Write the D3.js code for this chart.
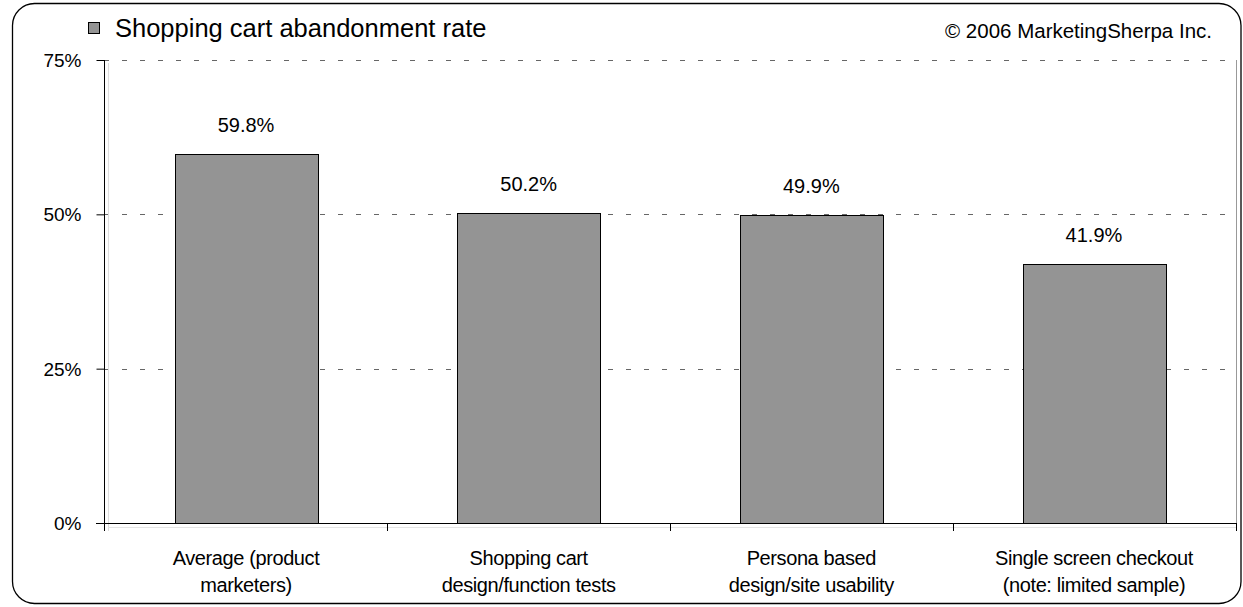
<!DOCTYPE html>
<html><head><meta charset="utf-8">
<script src="https://cdn.jsdelivr.net/npm/d3@7/dist/d3.min.js"></script>
<style>body{margin:0;background:#fff}svg{display:block;font-family:"Liberation Sans",Arial,sans-serif}</style>
</head><body><svg id="c" width="1243" height="607"></svg>
<script>
const categories = [["Average (product","marketers)"],["Shopping cart","design/function tests"],["Persona based","design/site usability"],["Single screen checkout","(note: limited sample)"]];
const values = [59.8, 50.2, 49.9, 41.9];
const valueLabels = ["59.8%","50.2%","49.9%","41.9%"];
const yTicks = [0, 25, 50, 75];
const seriesName = "Shopping cart abandonment rate";
const credit = "© 2006 MarketingSherpa Inc.";

const svg = d3.select("#c");
// outer rounded frame
svg.append("rect").attr("x",12.5).attr("y",3.5).attr("width",1228.5).attr("height",600)
  .attr("rx",22).attr("fill","#fff").attr("stroke","#000").attr("stroke-width",1.3);

const L=104, R=1236, T=60, B=523;
const x = d3.scaleBand().domain(d3.range(categories.length)).range([L,R]).paddingInner(0.495).paddingOuter(0.25);
const y = d3.scaleLinear().domain([0,75]).range([B,T]);

// gridlines
svg.append("g").selectAll("line").data(yTicks.filter(d=>d>0)).join("line")
  .attr("x1",L).attr("x2",R).attr("y1",d=>Math.round(y(d))+0.5).attr("y2",d=>Math.round(y(d))+0.5)
  .attr("stroke","#666").attr("stroke-dasharray","5,13");
// right border
svg.append("line").attr("x1",R+0.5).attr("x2",R+0.5).attr("y1",T).attr("y2",B).attr("stroke","#999");
// inner light lines by axes
svg.append("line").attr("x1",L+4.5).attr("x2",L+4.5).attr("y1",T+3).attr("y2",B+8).attr("stroke","#ddd");
svg.append("line").attr("x1",L+4).attr("x2",R).attr("y1",B+4.5).attr("y2",B+4.5).attr("stroke","#e4e4e4");

// bars
svg.append("g").selectAll("rect").data(values).join("rect")
  .attr("x",(d,i)=>Math.round(x(i))+0.5).attr("width",Math.round(x.bandwidth()))
  .attr("y",d=>Math.round(y(d))+0.5).attr("height",d=>B-Math.round(y(d)))
  .attr("fill","#949494").attr("stroke","#000").attr("stroke-width",1);

// value labels
svg.append("g").selectAll("text").data(values).join("text")
  .attr("x",(d,i)=>x(i)+x.bandwidth()/2).attr("y",d=>y(d)-22)
  .attr("text-anchor","middle").attr("font-size",20).attr("fill","#000")
  .text((d,i)=>valueLabels[i]);

// y axis
const ya = svg.append("g").attr("transform",`translate(${L+0.5},0)`)
  .call(d3.axisLeft(y).tickValues(yTicks).tickFormat(d=>d+"%").tickSize(8).tickPadding(15));
ya.select(".domain").attr("d",`M0,${T}V${B}`).attr("stroke","#000");
ya.selectAll(".tick line").attr("stroke","#000");
ya.selectAll(".tick text").attr("font-size",19).attr("font-family","Liberation Sans, Arial, sans-serif").attr("fill","#000").attr("dy","0.35em");

// x axis
svg.append("line").attr("x1",L-8).attr("x2",R).attr("y1",B+0.5).attr("y2",B+0.5).attr("stroke","#000");
const bounds = d3.range(categories.length+1).map(i=>L+i*(R-L)/categories.length);
svg.append("g").selectAll("line").data(bounds).join("line")
  .attr("x1",d=>Math.round(d)+0.5).attr("x2",d=>Math.round(d)+0.5).attr("y1",B).attr("y2",B+8).attr("stroke","#000");

const xl = svg.append("g").selectAll("text").data(categories).join("text")
  .attr("x",(d,i)=>x(i)+x.bandwidth()/2).attr("y",565).attr("text-anchor","middle")
  .attr("font-size",20).attr("letter-spacing","-0.4").attr("fill","#000");
xl.selectAll("tspan").data(d=>d).join("tspan")
  .attr("x",function(){return this.parentNode.getAttribute("x");}).attr("dy",(d,j)=>j?27:0).text(d=>d);

// legend
svg.append("rect").attr("x",88.5).attr("y",22.5).attr("width",11).attr("height",11)
  .attr("fill","#949494").attr("stroke","#000");
svg.append("text").attr("x",115).attr("y",37).attr("font-size",25.5).attr("fill","#000").text(seriesName);
svg.append("text").attr("x",1212).attr("y",38).attr("text-anchor","end").attr("font-size",20.5).attr("fill","#000").text(credit);
</script></body></html>
